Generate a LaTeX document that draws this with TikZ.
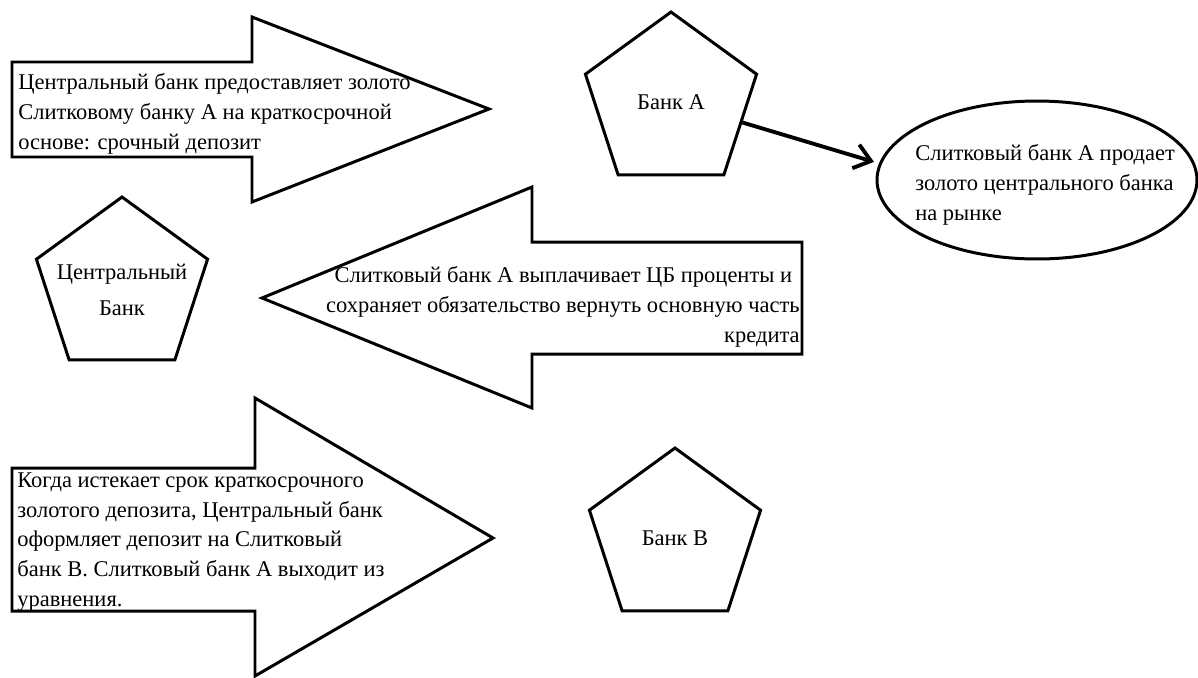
\documentclass[tikz,border=0pt]{standalone}
\usepackage{fontspec}
\setmainfont{Liberation Serif}
\usetikzlibrary{shapes.geometric, arrows.meta, positioning}

\begin{document}
\begin{tikzpicture}[x=0.02cm, y=-0.02cm, >={Straight Barb[length=9pt, width=14pt]}]
	\tikzstyle{bank}=[regular polygon, regular polygon sides=5, minimum size=3.6cm, draw=black, line width=1.7pt, inner sep=0pt, font=\fontsize{12.8}{17}\selectfont];
	\tikzstyle{block}=[draw=black, line width=1.7pt, fill=white, line join=miter];
	\tikzstyle{note}=[inner sep=0pt, font=\fontsize{12.8}{17}\selectfont];

	\useasboundingbox (0, 0) rectangle (1198, 677);

	% block arrows
	\draw[block] (12, 62) -- (252, 62) -- (252, 17) -- (489, 109) -- (252, 202) -- (252, 157) -- (12, 157) -- cycle;
	\draw[block] (802, 242) -- (532, 242) -- (532, 187) -- (262, 298) -- (532, 408) -- (532, 354) -- (802, 354) -- cycle;
	\draw[block] (12, 468) -- (255, 468) -- (255, 398) -- (493, 538) -- (255, 676) -- (255, 611) -- (12, 611) -- cycle;

	\node[note, anchor=west, align=left] (lend) at (18, 114) {Центральный банк предоставляет золото\\Слитковому банку А на краткосрочной\\основе: срочный депозит};
	\node[note, anchor=east, align=right] (interest) at (800, 307) {Слитковый банк А выплачивает ЦБ проценты и\hspace*{1.5mm}\\сохраняет обязательство вернуть основную часть\\кредита};
	\node[note, anchor=west, align=left] (rollover) at (17, 542) {Когда истекает срок краткосрочного\\золотого депозита, Центральный банк\\оформляет депозит на Слитковый\\банк В. Слитковый банк А выходит из\\уравнения.};

	% banks
	\node[bank] (cb) at (122, 287) {};
	\node[note, align=center] (cbtext) at (122, 290) {Центральный\\[3.5pt]Банк};
	\node[bank] (bankA) at (671, 102) {Банк А};
	\node[bank] (bankB) at (675, 538) {Банк В};

	\node[ellipse, draw=black, line width=1.7pt, minimum width=6.4cm, minimum height=3.16cm] (sale) at (1037, 180) {};
	\node[note, anchor=west, align=left] (saletext) at (915, 185) {Слитковый банк А продает\\золото центрального банка\\на рынке};

	\draw[->, line width=2.2pt, shorten >=3pt] (bankA.-16) -- (sale.174);

\end{tikzpicture}
\end{document}
